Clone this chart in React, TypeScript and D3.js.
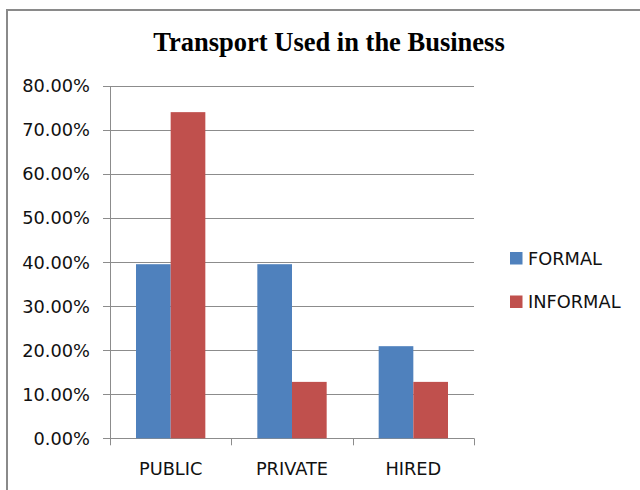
import React from "react";
import * as d3 from "d3";

const categories = ["PUBLIC", "PRIVATE", "HIRED"];
const seriesNames = ["FORMAL", "INFORMAL"];
const formal = [39.5, 39.5, 20.9];
const informal = [74.0, 12.8, 12.8];
const yTicks = [0, 10, 20, 30, 40, 50, 60, 70, 80];
const colors = ["#4F81BD", "#C0504D"];

export default function App() {
  const left = 110, right = 474, top = 85.7, bottom = 438.3;
  const x = d3.scaleBand<string>().domain(categories).range([left, right]);
  const y = d3.scaleLinear().domain([0, 80]).range([bottom, top]);
  const bw = x.bandwidth() / 3.5;
  const series = [formal, informal];
  const font = "'DejaVu Sans', Verdana, sans-serif";
  const grid = "#8c8c8c";
  return (
    <svg width={640} height={490} style={{ position: "absolute", left: 0, top: 0, background: "#fff" }}>
      <rect x={0} y={0} width={640} height={490} fill="#fff" />
      {/* frame */}
      <line x1={6} y1={10} x2={640} y2={10} stroke="#8a8a8a" strokeWidth={2} />
      <line x1={7} y1={9} x2={7} y2={490} stroke="#8a8a8a" strokeWidth={2} />
      <text x={329} y={51} textAnchor="middle" fontFamily="'Liberation Serif', 'Times New Roman', serif" fontWeight="bold" fontSize={26.5} fill="#000">
        Transport Used in the Business
      </text>
      {/* gridlines */}
      {yTicks.map((t) => (
        <g key={t}>
          <line x1={t === 0 ? 103 : 103} x2={right} y1={Math.round(y(t)) + 0.5} y2={Math.round(y(t)) + 0.5} stroke={grid} strokeWidth={1} />
          <text x={90} y={y(t) + 6.5} textAnchor="end" fontFamily={font} fontSize={17.8} fill="#111">
            {t.toFixed(2)}%
          </text>
        </g>
      ))}
      {/* y axis */}
      <line x1={110.5} x2={110.5} y1={Math.round(top)} y2={bottom} stroke={grid} strokeWidth={1} />
      {/* category ticks */}
      {[...categories.map((c) => x(c) as number), right].map((v, i) => (
        <line key={i} x1={Math.round(v) + 0.5} x2={Math.round(v) + 0.5} y1={bottom} y2={bottom + 7} stroke={grid} strokeWidth={1} />
      ))}
      {/* bars */}
      {categories.map((c, ci) =>
        series.map((s, si) => (
          <rect
            key={c + si}
            x={(x(c) as number) + bw * 0.75 + si * bw}
            y={y(s[ci])}
            width={bw}
            height={bottom - y(s[ci])}
            fill={colors[si]}
          />
        ))
      )}
      {/* category labels */}
      {categories.map((c) => (
        <text key={c} x={(x(c) as number) + x.bandwidth() / 2} y={474.5} textAnchor="middle" fontFamily={font} fontSize={17.8} fill="#111">
          {c}
        </text>
      ))}
      {/* legend */}
      {seriesNames.map((n, i) => (
        <g key={n}>
          <rect x={510} y={252 + i * 43.5} width={12.5} height={12.5} fill={colors[i]} />
          <text x={528} y={264.5 + i * 43.5} fontFamily={font} fontSize={17.8} fill="#111">
            {n}
          </text>
        </g>
      ))}
    </svg>
  );
}
